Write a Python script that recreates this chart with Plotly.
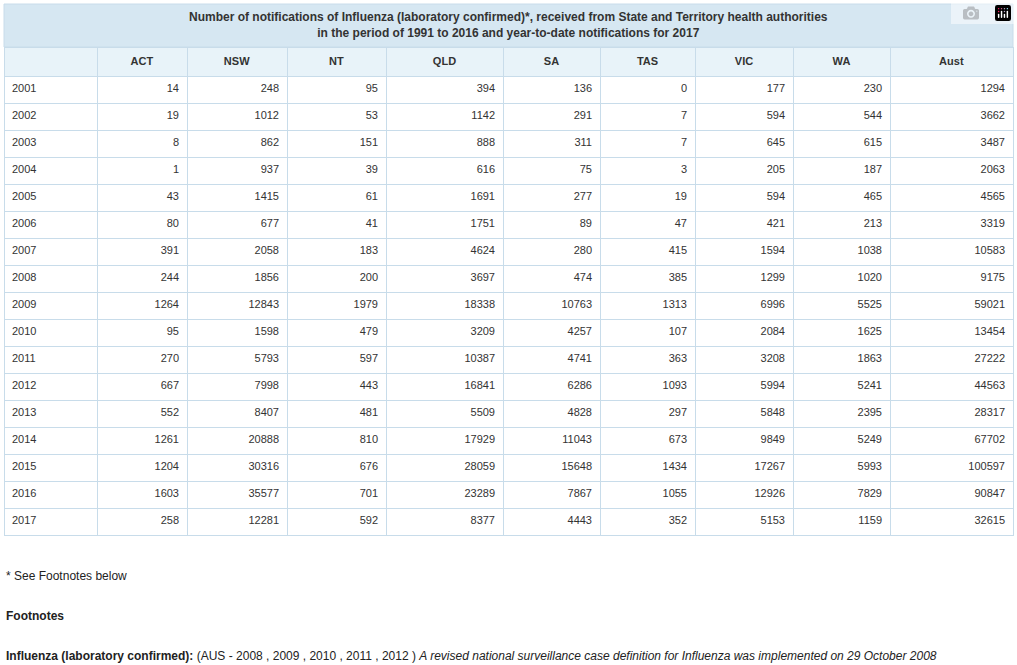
import plotly.graph_objects as go

years = [str(y) for y in range(2001, 2018)]
states = ["ACT", "NSW", "NT", "QLD", "SA", "TAS", "VIC", "WA", "Aust"]
act = [14, 19, 8, 1, 43, 80, 391, 244, 1264, 95, 270, 667, 552, 1261, 1204, 1603, 258]
nsw = [248, 1012, 862, 937, 1415, 677, 2058, 1856, 12843, 1598, 5793, 7998, 8407, 20888, 30316, 35577, 12281]
nt = [95, 53, 151, 39, 61, 41, 183, 200, 1979, 479, 597, 443, 481, 810, 676, 701, 592]
qld = [394, 1142, 888, 616, 1691, 1751, 4624, 3697, 18338, 3209, 10387, 16841, 5509, 17929, 28059, 23289, 8377]
sa = [136, 291, 311, 75, 277, 89, 280, 474, 10763, 4257, 4741, 6286, 4828, 11043, 15648, 7867, 4443]
tas = [0, 7, 7, 3, 19, 47, 415, 385, 1313, 107, 363, 1093, 297, 673, 1434, 1055, 352]
vic = [177, 594, 645, 205, 594, 421, 1594, 1299, 6996, 2084, 3208, 5994, 5848, 9849, 17267, 12926, 5153]
wa = [230, 544, 615, 187, 465, 213, 1038, 1020, 5525, 1625, 1863, 5241, 2395, 5249, 5993, 7829, 1159]
aust = [1294, 3662, 3487, 2063, 4565, 3319, 10583, 9175, 59021, 13454, 27222, 44563, 28317, 67702, 100597, 90847, 32615]

W, H = 1017, 665
border = "#c8dcea"
widths = [93, 90, 100, 99, 117, 97, 95, 98, 97, 123]

fig = go.Figure(go.Table(
    domain=dict(x=[4 / W, 1013 / W], y=[0, 1 - 47 / H]),
    columnwidth=widths,
    header=dict(
        values=[""] + ["<b>%s</b>" % s for s in states],
        fill_color="#e8f3f9",
        line_color=border,
        align="center",
        height=29,
        font=dict(family="Liberation Sans, Arial", size=11, color="#333333"),
    ),
    cells=dict(
        values=[years, act, nsw, nt, qld, sa, tas, vic, wa, aust],
        fill_color="white",
        line_color=border,
        align=["left"] + ["right"] * 9,
        height=27,
        font=dict(family="Liberation Sans, Arial", size=11, color="#333333"),
    ),
))

# title band above the table
fig.add_shape(type="rect", xref="paper", yref="paper",
              x0=4 / W, x1=1013 / W, y0=1 - 47 / H, y1=1 - 4 / H,
              fillcolor="#d6e7f2", line=dict(color=border, width=1), layer="below")
fig.add_annotation(
    x=0.5, y=1 - 25.5 / H, xref="paper", yref="paper", showarrow=False, yanchor="middle",
    text="<b>Number of notifications of Influenza (laboratory confirmed)*, received from State and Territory health authorities<br>"
         "in the period of 1991 to 2016 and year-to-date notifications for 2017</b>",
    font=dict(family="Liberation Sans, Arial", size=12, color="#333333"), align="center",
)

foot_font = dict(family="Liberation Sans, Arial", size=12, color="#222222")
fig.add_annotation(x=4 / W, y=1 - 576 / H, xref="paper", yref="paper", showarrow=False,
                   xanchor="left", yanchor="middle", text="* See Footnotes below", font=foot_font)
fig.add_annotation(x=4 / W, y=1 - 616 / H, xref="paper", yref="paper", showarrow=False,
                   xanchor="left", yanchor="middle", text="<b>Footnotes</b>", font=foot_font)
fig.add_annotation(x=4 / W, y=1 - 656 / H, xref="paper", yref="paper", showarrow=False,
                   xanchor="left", yanchor="middle",
                   text="<b>Influenza (laboratory confirmed):</b> (AUS - 2008 , 2009 , 2010 , 2011 , 2012 ) "
                        "<i>A revised national surveillance case definition for Influenza was implemented on 29 October 2008</i>",
                   font=foot_font)

fig.update_layout(width=W, height=H, margin=dict(l=0, r=0, t=0, b=0),
                  paper_bgcolor="white", plot_bgcolor="white")

# drop the default page margin so the figure sits at the window's corner
fig.write_html("out.html", post_script="document.body.style.margin='0';")
